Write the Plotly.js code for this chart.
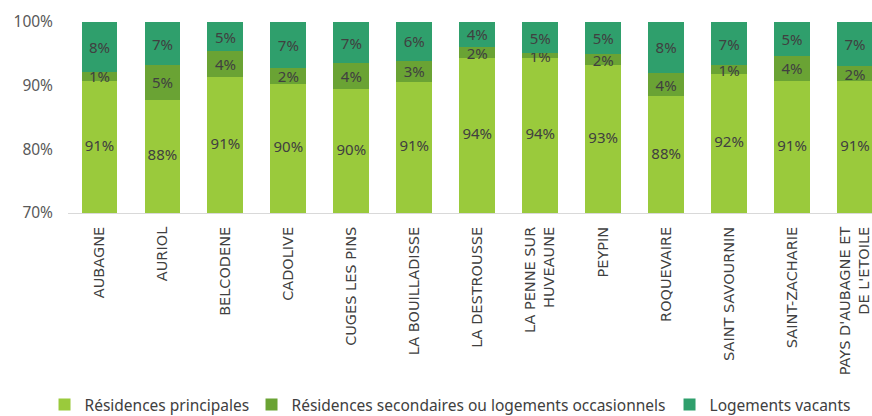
<!DOCTYPE html>
<html>
<head>
<meta charset="utf-8">
<script src="https://cdn.plot.ly/plotly-3.0.1.min.js"></script>
<style>html,body{margin:0;padding:0;background:#fff;}#chart{width:872px;height:416px;}</style>
</head>
<body>
<div id="chart"></div>
<script>
const communes = ["AUBAGNE","AURIOL","BELCODENE","CADOLIVE","CUGES LES PINS","LA BOUILLADISSE","LA DESTROUSSE","LA PENNE SUR<br>HUVEAUNE","PEYPIN","ROQUEVAIRE","SAINT SAVOURNIN","SAINT-ZACHARIE","PAYS D'AUBAGNE ET<br>DE L'ETOILE"];
const residencesPrincipales = [0.908, 0.878, 0.913, 0.903, 0.895, 0.906, 0.943, 0.943, 0.932, 0.883, 0.918, 0.908, 0.907];
const residencesSecondaires = [0.014, 0.054, 0.041, 0.024, 0.040, 0.033, 0.018, 0.008, 0.018, 0.037, 0.014, 0.038, 0.024];
const logementsVacants      = [0.078, 0.068, 0.046, 0.073, 0.065, 0.061, 0.039, 0.049, 0.050, 0.080, 0.068, 0.054, 0.069];
const axisFloor = 0.7;

const labelFont = {family: "Noto Sans, sans-serif", size: 15, color: "#404040"};
function mk(name, vals, color, lw, showText) {
  return {
    type: "bar", name: name, x: communes, y: vals,
    marker: {color: color, line: {width: 0}},
    texttemplate: showText ? "%{y:.0%}" : "", textposition: showText ? "inside" : "none", insidetextanchor: "middle",
    textangle: 0, constraintext: "none", textfont: labelFont, cliponaxis: true,
    legendwidth: lw, hoverinfo: "skip"
  };
}
const principalLabels = {
  type: "scatter", mode: "text", x: communes,
  y: residencesPrincipales.map(v => (axisFloor + v) / 2),
  text: residencesPrincipales.map(v => Math.round(v * 100) + "%"),
  textfont: labelFont, textposition: "middle center",
  showlegend: false, hoverinfo: "skip", cliponaxis: false
};
const data = [
  mk("Résidences principales", residencesPrincipales, "#9aca3c", 162, false),
  mk("Résidences secondaires ou logements occasionnels", residencesSecondaires, "#6aa334", 373, true),
  mk("Logements vacants", logementsVacants, "#2f9f6c", 140, true),
  principalLabels
];
const layout = {
  width: 872, height: 416,
  margin: {l: 67.5, r: 0, t: 22, b: 203, autoexpand: false},
  barmode: "stack", bargap: 0.43,
  paper_bgcolor: "#fff", plot_bgcolor: "#fff",
  showlegend: true,
  legend: {orientation: "h", x: -0.0292, xanchor: "left", y: -1.005, yanchor: "middle",
           font: {family: "Noto Sans, sans-serif", size: 15.5, color: "#404040"}, traceorder: "normal"},
  xaxis: {type: "category", range: [-0.5, 12.27], tickangle: -90, showline: true, linecolor: "#d9d9d9", linewidth: 1,
          ticks: "", showgrid: false, fixedrange: true, ticklabelstandoff: 7,
          tickfont: {family: "DejaVu Sans, sans-serif", size: 14.5, color: "#404040"}},
  yaxis: {range: [0.7, 1.0], dtick: 0.1, tickformat: ".0%", showgrid: false, zeroline: false, showline: false,
          ticks: "", fixedrange: true, ticklabelstandoff: 14,
          tickfont: {family: "Noto Sans, sans-serif", size: 15.5, color: "#595959"}}
};
Plotly.newPlot("chart", data, layout, {staticPlot: true, displayModeBar: false});
</script>
</body>
</html>
